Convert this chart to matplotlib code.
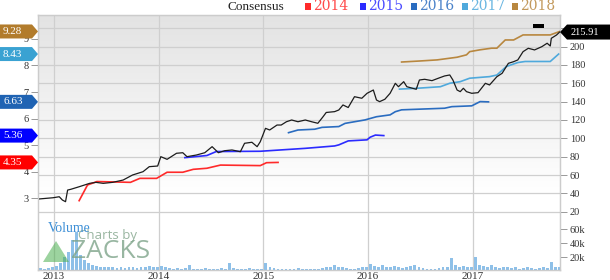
import numpy as np
import matplotlib
matplotlib.use("Agg")
import matplotlib.pyplot as plt
from matplotlib.patches import Polygon, Rectangle
from matplotlib.transforms import IdentityTransform

plt.rcParams['font.family'] = ['Liberation Serif', 'DejaVu Serif']

# ---------------- data ----------------
price_t = [2012.85, 2012.99, 2013.05, 2013.08, 2013.11, 2013.13, 2013.16, 2013.24, 2013.34,
           2013.40, 2013.47, 2013.56, 2013.66, 2013.75, 2013.85, 2013.91, 2013.99, 2014.02,
           2014.08, 2014.17, 2014.23, 2014.27, 2014.36, 2014.44, 2014.51, 2014.57, 2014.63,
           2014.70, 2014.78, 2014.82, 2014.89, 2014.94, 2014.97, 2015.02, 2015.06, 2015.13,
           2015.17, 2015.22, 2015.27, 2015.33, 2015.40, 2015.46, 2015.52, 2015.57, 2015.60,
           2015.68, 2015.72, 2015.76, 2015.81, 2015.87, 2015.94, 2015.99, 2016.05, 2016.08,
           2016.11, 2016.16, 2016.21, 2016.26, 2016.29, 2016.34, 2016.37, 2016.46, 2016.49,
           2016.54, 2016.61, 2016.67, 2016.73, 2016.78, 2016.81, 2016.85, 2016.88, 2016.91,
           2016.94, 2016.99, 2017.05, 2017.12, 2017.16, 2017.23, 2017.28, 2017.34, 2017.39,
           2017.43, 2017.48, 2017.53, 2017.59, 2017.66, 2017.71, 2017.74, 2017.75, 2017.80,
           2017.83]
price_v = [33.8, 35.2, 36.3, 32.7, 30.9, 43.6, 44.4, 47.2, 50.9,
           52.0, 50.9, 52.0, 54.5, 60.0, 63.6, 69.1, 69.8, 80.0,
           77.1, 83.7, 84.3, 80.0, 81.8, 84.3, 90.9, 84.3, 86.5,
           87.3, 85.4, 94.6, 95.7, 90.9, 96.3, 110.9, 109.1, 114.5,
           114.5, 118.1, 120.0, 118.1, 120.0, 118.1, 116.4, 123.6, 128.2,
           129.1, 130.9, 136.4, 133.6, 145.4, 143.7, 149.1, 152.7, 141.8,
           140.0, 142.6, 149.1, 160.0, 156.3, 161.8, 156.3, 153.5, 163.6,
           164.4, 162.9, 165.5, 168.0, 169.1, 163.6, 152.7, 150.9, 154.6,
           150.9, 149.1, 149.8, 160.0, 158.2, 167.2, 170.9, 181.8, 183.6,
           185.5, 194.5, 198.2, 196.4, 200.0, 203.7, 200.7, 209.1, 212.7,
           215.91]

eps2014_t = [2013.24, 2013.32, 2013.41, 2013.73, 2013.82, 2013.98, 2014.08, 2014.23, 2014.33,
             2014.46, 2014.59, 2014.97, 2015.03, 2015.14]
eps2014_v = [2.91, 3.50, 3.63, 3.60, 3.75, 3.75, 3.98, 3.98, 4.09,
             4.13, 4.25, 4.23, 4.34, 4.35]

eps2015_t = [2014.25, 2014.46, 2014.55, 2014.97, 2015.40, 2015.68, 2015.72, 2015.81, 2015.99,
             2016.02, 2016.07, 2016.15]
eps2015_v = [4.53, 4.61, 4.76, 4.77, 4.88, 4.97, 5.01, 5.16, 5.20,
             5.30, 5.38, 5.36]

eps2016_t = [2015.24, 2015.33, 2015.49, 2015.56, 2015.72, 2015.78, 2015.97, 2016.08, 2016.21,
             2016.26, 2016.32, 2016.73, 2016.80, 2016.99, 2017.07, 2017.15]
eps2016_v = [5.47, 5.57, 5.60, 5.67, 5.70, 5.82, 5.95, 6.07, 6.14,
             6.26, 6.33, 6.39, 6.45, 6.48, 6.64, 6.63]

eps2017_t = [2016.30, 2016.46, 2016.69, 2016.78, 2016.88, 2016.97, 2017.16, 2017.23, 2017.32,
             2017.43, 2017.50, 2017.74, 2017.82]
eps2017_v = [7.11, 7.14, 7.20, 7.33, 7.39, 7.52, 7.58, 7.64, 7.96,
             8.11, 8.15, 8.15, 8.43]

eps2018_t = [2016.32, 2016.50, 2016.66, 2016.85, 2016.94, 2016.97, 2017.07, 2017.18, 2017.23,
             2017.31, 2017.39, 2017.48, 2017.74, 2017.83]
eps2018_v = [8.13, 8.17, 8.21, 8.31, 8.40, 8.52, 8.59, 8.65, 8.65,
             8.96, 8.96, 9.15, 9.15, 9.28]

# bi-weekly volume (thousands)
vol_start = 2012.87
vol_step = 1 / 26
vol_k = [5, 4, 5, 6,
         8, 12, 20, 28, 45, 56, 24, 16,
         12, 9, 8, 7, 6, 7, 6, 5, 6, 5, 7, 6, 5, 6, 7, 8, 6, 7,
         8, 6, 5, 4, 5, 4, 5, 10, 4, 4, 4, 5, 4, 4, 4, 5, 4, 12, 5, 4, 4, 4, 5, 4, 4, 4,
         12, 6, 5, 4, 4, 4, 4, 4, 5, 4, 4, 4, 4, 4, 5, 6, 7, 10, 6, 7, 5, 4, 4, 5, 6, 7,
         11, 8, 7, 10, 6, 7, 8, 6, 5, 7, 8, 10, 6, 5, 4, 4, 4, 5, 7, 6, 19, 10, 7, 8, 6, 7,
         20, 10, 8, 7, 9, 6, 5, 6, 7, 5, 6, 4, 5, 6, 5, 4, 5, 6, 5, 13, 6, 7]

year_ticks = [2013, 2014, 2015, 2016, 2017]
year_labels = ['2013', '2014', '2015', '2016', '2017']
price_ticks = [20, 40, 60, 80, 100, 120, 140, 160, 180, 200, 220]
eps_ticks = [3, 4, 5, 6, 7, 8, 9]
vol_ticks = [20, 40, 60]
vol_labels = ['20k', '40k', '60k']

series_names = ['2014', '2015', '2016', '2017', '2018']
series_colors = ['#ff2a2a', '#2b2bff', '#2a6cc0', '#4fa9dc', '#b8873f']
tag_colors = ['#ff0000', '#0000ff', '#1f63b3', '#3aa2d2', '#b27c2c']
tag_values = [4.35, 5.36, 6.63, 8.43, 9.28]
last_price = 215.91

# ---------------- figure ----------------
W, H = 610, 280
fig = plt.figure(figsize=(W / 100, H / 100), dpi=100)
rect = [38 / W, 10 / H, 522 / W, 255 / H]
XL = (2012.847, 2017.833)
PY = (-43.6, 234.5)

axg = fig.add_axes(rect)
n = 256
frac = np.linspace(0, 1, n)
shade = np.clip((frac - 0.3) / 0.7, 0, 1)
top = np.array([0.89, 0.89, 0.89])
img = np.ones((n, 1, 3)) * (1 - shade[:, None, None]) + top[None, None, :] * shade[:, None, None]
axg.imshow(img, extent=[0, 1, 0, 1], transform=axg.transAxes, aspect='auto',
           origin='lower', zorder=-10, interpolation='bilinear')
axg.set_xlim(*XL)
axg.set_ylim(*PY)

# twins
axv = axg.twinx()
axe = axg.twinx()
axl = axg.twinx()

axg.set_yticks(price_ticks)
axg.set_xticks(year_ticks)
axg.set_xticklabels(year_labels)
axg.grid(True, color='#cfcfcf', lw=0.9)
axg.set_axisbelow(True)
axg.yaxis.set_ticks_position('right')
axg.tick_params(axis='y', left=False, labelleft=False, right=True, labelright=True,
                length=5, width=0.7, color='#999999', labelsize=7.5,
                labelcolor='#333333', pad=2)
axg.tick_params(axis='x', length=0, labelsize=8, labelcolor='#333333', pad=1.5)

# volume
axv.bar([vol_start + i * vol_step for i in range(len(vol_k))], vol_k,
        width=vol_step * 0.7, color='#8ec0e8', edgecolor='none', zorder=2)
axv.set_xlim(*XL)
axv.set_ylim(2.4, 361)
axv.set_yticks(vol_ticks)
axv.set_yticklabels(vol_labels)
axv.tick_params(axis='y', length=5, width=0.7, color='#999999', labelsize=7.5,
                labelcolor='#333333', pad=2)

# EPS consensus
axe.yaxis.set_ticks_position('left')
axe.set_xlim(*XL)
axe.set_ylim(0.30, 9.90)
axe.set_yticks(eps_ticks)
axe.tick_params(axis='y', left=True, right=False, labelleft=True, labelright=False,
                length=5, width=0.7, color='#999999', labelsize=7.5,
                labelcolor='#333333', pad=1.5)
for t, v, c in zip([eps2014_t, eps2015_t, eps2016_t, eps2017_t, eps2018_t],
                   [eps2014_v, eps2015_v, eps2016_v, eps2017_v, eps2018_v],
                   series_colors):
    axe.plot(t, v, color=c, lw=1.2, solid_joinstyle='miter')

# price
axl.set_xlim(*XL)
axl.set_ylim(*PY)
axl.set_yticks([])
axl.plot(price_t, price_v, color='#1c1c1c', lw=0.9)

for a in (axg, axv, axe, axl):
    for s in a.spines.values():
        s.set_color('#cccccc')
        s.set_linewidth(0.8)
    a.patch.set_visible(a is axg)

# ---------------- decorations ----------------
idt = IdentityTransform()
for val, col in zip(tag_values, tag_colors):
    yd = axe.transData.transform((2015, val))[1]
    fig.add_artist(Polygon([(0, yd - 7), (32, yd - 7), (38, yd), (32, yd + 7), (0, yd + 7)],
                           closed=True, transform=idt, facecolor=col, edgecolor='none', zorder=20))
    fig.text(3 / W, yd / H, f'{val:.2f}', color='white', fontsize=8, va='center',
             ha='left', zorder=21)

yd = axl.transData.transform((2015, last_price))[1]
fig.add_artist(Polygon([(560, yd), (567, yd + 7.5), (610, yd + 7.5), (610, yd - 7.5), (567, yd - 7.5)],
                       closed=True, transform=idt, facecolor='black', edgecolor='none', zorder=20))
fig.text(571 / W, yd / H, f'{last_price:.2f}', color='white', fontsize=7.5, va='center',
         ha='left', zorder=21)
fig.add_artist(Rectangle((533, H - 28.3), 11, 4.3, transform=idt, facecolor='black',
                         edgecolor='none', zorder=20))

# legend
fig.text(227 / W, (H - 7.5) / H, 'Consensus', fontsize=9.5, color='#222222', va='center')
leg_sq_x = [305, 360, 411, 462, 512]
for name, col, sx in zip(series_names, series_colors, leg_sq_x):
    fig.add_artist(Rectangle((sx, H - 9.5), 6, 7, transform=idt, facecolor=col,
                             edgecolor='none'))
    fig.text((sx + 8) / W, (H - 6) / H, name, fontsize=10, color=col, va='center',
             family=['DejaVu Serif'], alpha=0.85)

# volume label & watermark
fig.text(48 / W, (H - 229) / H, 'Volume', fontsize=10, color='#3d8fd6', va='center', zorder=15)
fig.add_artist(Polygon([(43, H - 262), (69, H - 262), (56, H - 241)], closed=True,
                       transform=idt, facecolor='#4caf50', alpha=0.55, edgecolor='none', zorder=14))
fig.text(78 / W, (H - 235) / H, 'Charts by', fontsize=9.5, color='#8fae97', va='center',
         family=['Open Sans', 'DejaVu Sans'], alpha=0.9, zorder=14)
fig.text(71 / W, (H - 252) / H, 'ZACKS', fontsize=19, color='#7ea48a', va='center',
         family=['Open Sans', 'DejaVu Sans'], alpha=0.8, zorder=14)

fig.savefig('out.png', dpi=100)
